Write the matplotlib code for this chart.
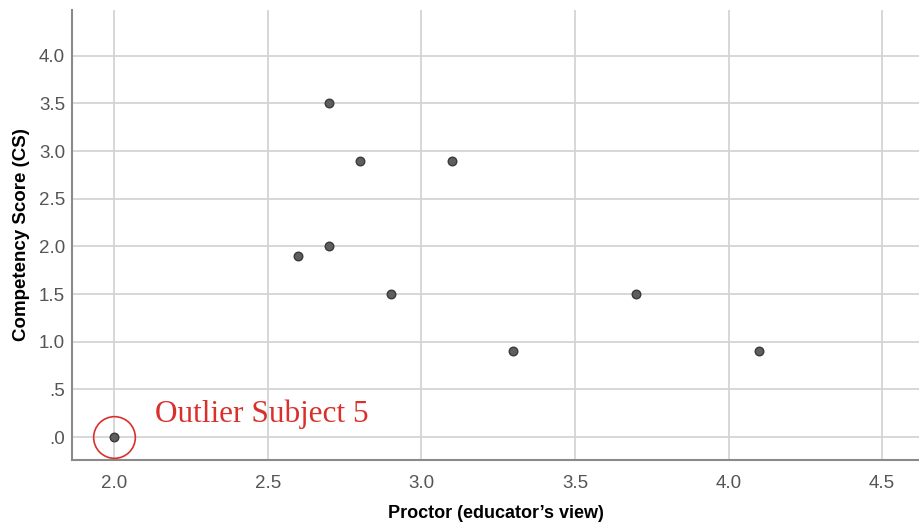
import matplotlib
matplotlib.use("Agg")
import matplotlib.pyplot as plt

# data
proctor = [2.7, 2.8, 3.1, 2.6, 2.7, 2.9, 3.3, 3.7, 4.1, 2.0]
competency = [3.5, 2.9, 2.9, 1.9, 2.0, 1.5, 0.9, 1.5, 0.9, 0.0]
x_ticks = [2.0, 2.5, 3.0, 3.5, 4.0, 4.5]
y_ticks = [0.0, 0.5, 1.0, 1.5, 2.0, 2.5, 3.0, 3.5, 4.0]
y_tick_labels = [".0", ".5", "1.0", "1.5", "2.0", "2.5", "3.0", "3.5", "4.0"]
outlier = (2.0, 0.0)
outlier_label = "Outlier Subject 5"

plt.rcParams['font.family'] = ['Liberation Sans', 'DejaVu Sans']

fig = plt.figure(figsize=(9.19, 5.22), dpi=100)
ax = fig.add_axes([72 / 919, 1 - 460 / 522, 1 - 72 / 919, 450 / 522])

ax.set_xlim(1.863, 4.62)
ax.set_ylim(-0.24, 4.48)

ax.grid(True, color='#d4d4d4', linewidth=1.3)
ax.set_axisbelow(True)

ax.scatter(proctor, competency, s=38, color='#5e5e5e', edgecolors='#3a3a3a',
           linewidths=1.0, zorder=3)

# red ring around the outlier
ax.plot([outlier[0]], [outlier[1]], marker='o', ms=30, mfc='none',
        mec='#d9302c', mew=1.2, zorder=4)
ax.text(2.133, 0.24, outlier_label, color='#d9302c', fontsize=22.5,
        family=['Liberation Serif', 'DejaVu Serif'], va='center', ha='left')

ax.set_xticks(x_ticks)
ax.set_xticklabels([f"{v:.1f}" for v in x_ticks])
ax.set_yticks(y_ticks)
ax.set_yticklabels(y_tick_labels)
ax.tick_params(axis='both', length=0, labelsize=13.5, labelcolor='#555555')
ax.tick_params(axis='x', pad=11)
ax.tick_params(axis='y', pad=5)

for side in ['top', 'right']:
    ax.spines[side].set_visible(False)
for side in ['left', 'bottom']:
    ax.spines[side].set_color('#8a8a8a')
    ax.spines[side].set_linewidth(1.5)

ax.set_xlabel("Proctor (educator\u2019s view)", fontsize=13, fontweight='bold',
              labelpad=9)
ax.set_ylabel("Competency Score (CS)", fontsize=13.5, fontweight='bold',
              labelpad=6)

fig.savefig("out.png", dpi=100)
